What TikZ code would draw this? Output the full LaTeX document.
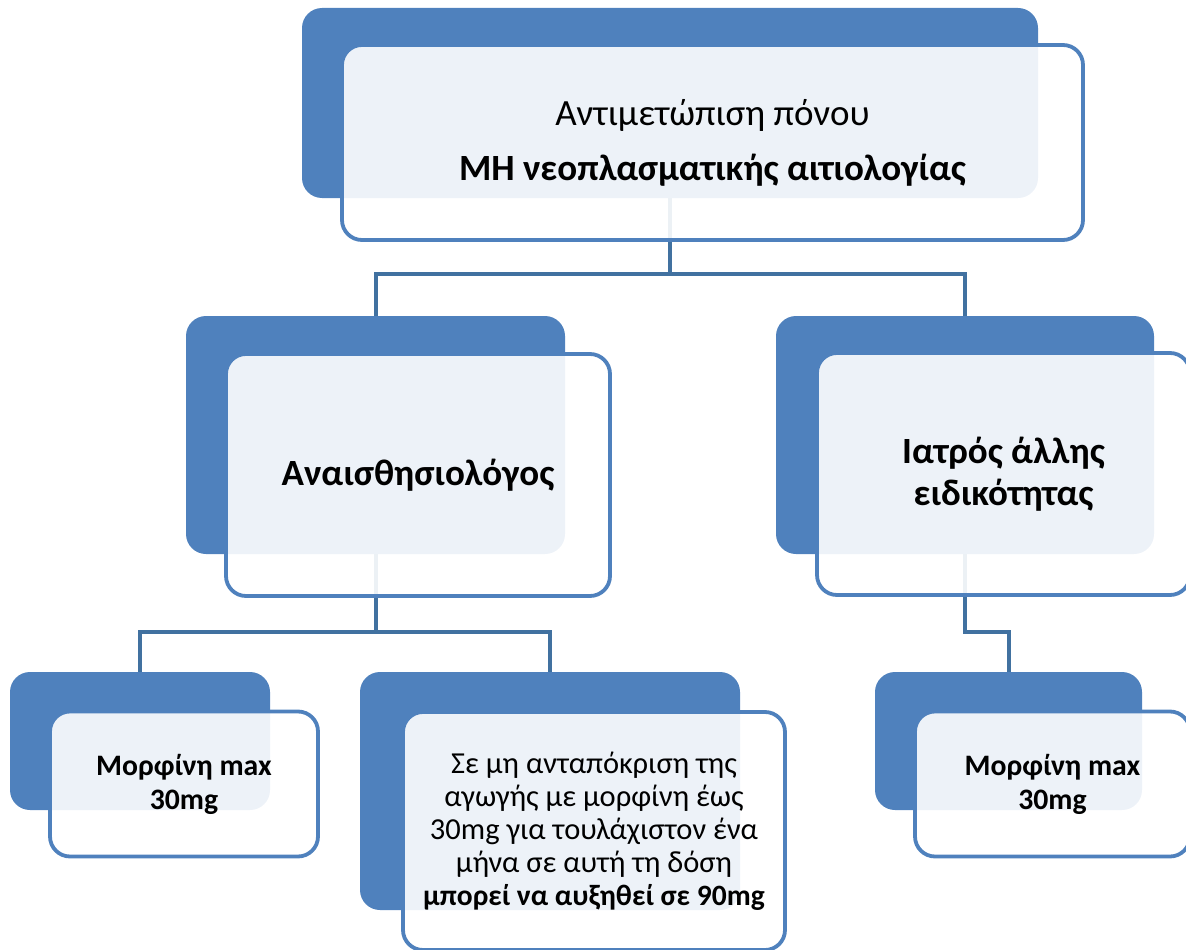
\documentclass[tikz,border=0pt]{standalone}
\usepackage{fontspec}
\setmainfont{Carlito}
\pgfdeclarelayer{background}
\pgfsetlayers{background,main}
\definecolor{bluefill}{RGB}{79,129,189}
\definecolor{connblue}{RGB}{65,113,160}
\tikzset{
  bluebox/.style={draw=none, fill=bluefill, rounded corners=20pt, inner sep=0pt},
  frontbox/.style={draw=bluefill, line width=3.8pt, fill=white, fill opacity=0.9, text opacity=1,
    rounded corners=20pt, inner sep=0pt, align=center, text=black},
  conn/.style={draw=connblue, line width=4pt}
}
\begin{document}
\begin{tikzpicture}[x=1pt,y=-1pt]
\useasboundingbox (0,0) rectangle (1186,950);
\clip (0,0) rectangle (1186,950);
% back rectangles
\node[bluebox, minimum width=736pt, minimum height=190pt] (topb) at (670,103) {};
\node[bluebox, minimum width=379pt, minimum height=238pt] (lmb) at (375.5,435) {};
\node[bluebox, minimum width=378pt, minimum height=238pt] (rmb) at (965,435) {};
\node[bluebox, minimum width=260pt, minimum height=138pt] (blb) at (140,741) {};
\node[bluebox, minimum width=380pt, minimum height=238pt] (bmb) at (550,791) {};
\node[bluebox, minimum width=267pt, minimum height=138pt] (brb) at (1008.5,741) {};
% front boxes
\node[frontbox, minimum width=741pt, minimum height=195pt, font=\fontsize{37}{45}\selectfont] (topf) at (712.5,142.5)
  {Αντιμετώπιση πόνου\\[10pt]\textbf{ΜΗ νεοπλασματικής αιτιολογίας}};
\node[frontbox, minimum width=384pt, minimum height=242pt, font=\bfseries\fontsize{37}{42}\selectfont] (lmf) at (418,475)
  {Αναισθησιολόγος};
\node[frontbox, minimum width=373pt, minimum height=242pt, font=\bfseries\fontsize{37}{42}\selectfont] (rmf) at (1003.5,474)
  {Ιατρός άλλης\\ειδικότητας};
\node[frontbox, minimum width=268pt, minimum height=145pt, font=\bfseries\fontsize{29.7}{34}\selectfont] (blf) at (184,784)
  {Μορφίνη max\\30mg};
\node[frontbox, minimum width=382pt, minimum height=238pt, font=\fontsize{30.5}{33}\selectfont] (bmf) at (594,831)
  {Σε μη ανταπόκριση της\\αγωγής με μορφίνη έως\\30mg για τουλάχιστον ένα\\μήνα σε αυτή τη δόση\\\textbf{\fontsize{29.5}{33}\selectfont μπορεί να αυξηθεί σε 90mg}};
\node[frontbox, minimum width=275pt, minimum height=145pt, font=\bfseries\fontsize{29.7}{34}\selectfont] (brf) at (1052.5,784)
  {Μορφίνη max\\30mg};
% connectors
\begin{pgfonlayer}{background}
\draw[conn] (topb.south) -- ++(0,76) -| (lmb.north);
\draw[conn] (topb.south) -- ++(0,76) -| (rmb.north);
\draw[conn] (lmb.south) -- ++(0,78) -| (blb.north);
\draw[conn] (lmb.south) -- ++(0,78) -| (bmb.north);
\draw[conn] (rmb.south) -- ++(0,78) -| (brb.north);
\end{pgfonlayer}
\end{tikzpicture}
\end{document}
